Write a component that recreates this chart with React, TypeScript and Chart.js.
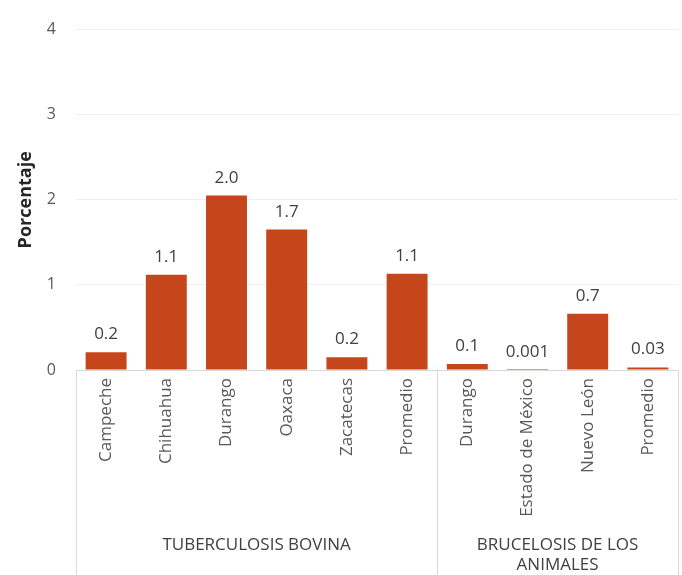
import React, { useEffect, useRef } from 'react';
import { Chart, registerables } from 'chart.js';

Chart.register(...registerables);

const categories = ['Campeche', 'Chihuahua', 'Durango', 'Oaxaca', 'Zacatecas', 'Promedio', 'Durango', 'Estado de México', 'Nuevo León', 'Promedio'];
const values = [0.21, 1.12, 2.05, 1.65, 0.15, 1.13, 0.07, 0.001, 0.66, 0.03];
const valueLabels = ['0.2', '1.1', '2.0', '1.7', '0.2', '1.1', '0.1', '0.001', '0.7', '0.03'];
const groupNames = [['TUBERCULOSIS BOVINA'], ['BRUCELOSIS DE LOS', 'ANIMALES']];
const groupSizes = [6, 4];
const yMin = 0;
const yMax = 4;
const yStep = 1;
const yTitle = 'Porcentaje';

const FONT = "'Open Sans', 'Noto Sans', sans-serif";

const annotate = {
  id: 'annotate',
  afterDatasetsDraw(chart: any) {
    const ctx = chart.ctx;
    const meta = chart.getDatasetMeta(0);
    const area = chart.chartArea;
    const xs = chart.scales.x;
    ctx.save();
    ctx.font = `17px ${FONT}`;
    ctx.fillStyle = '#404040';
    ctx.textAlign = 'center';
    ctx.textBaseline = 'alphabetic';
    meta.data.forEach((el: any, i: number) => {
      ctx.fillText(valueLabels[i], el.x, el.y - 13);
    });

    const half = (xs.getPixelForValue(1) - xs.getPixelForValue(0)) / 2;
    const bx = (k: number) => xs.getPixelForValue(k) - half;
    const bounds: number[] = [0];
    let acc = 0;
    groupSizes.forEach((s) => { acc += s; bounds.push(acc); });
    ctx.strokeStyle = '#d9d9d9';
    ctx.lineWidth = 1;
    bounds.forEach((k) => {
      const x = Math.round(bx(k)) + 0.5;
      ctx.beginPath();
      ctx.moveTo(x, area.bottom);
      ctx.lineTo(x, chart.height);
      ctx.stroke();
    });

    ctx.font = `17px ${FONT}`;
    ctx.fillStyle = '#404040';
    ctx.textBaseline = 'middle';
    let start = 0;
    groupSizes.forEach((s, g) => {
      const cx = (bx(start) + bx(start + s)) / 2;
      groupNames[g].forEach((line, j) => {
        ctx.fillText(line, cx, area.bottom + 175 + j * 20);
      });
      start += s;
    });
    ctx.restore();
  },
};

export default function App() {
  const ref = useRef<HTMLCanvasElement | null>(null);
  useEffect(() => {
    if (!ref.current) return;
    const chart = new Chart(ref.current, {
      type: 'bar',
      data: {
        labels: categories,
        datasets: [
          {
            data: values,
            backgroundColor: '#c5461a',
            borderWidth: 0,
            barPercentage: 0.68,
            categoryPercentage: 1,
          },
        ],
      },
      options: {
        responsive: false,
        animation: false,
        layout: { padding: { top: 25, right: 4, left: 0, bottom: 0 } },
        plugins: {
          legend: { display: false },
          tooltip: { enabled: false },
        },
        scales: {
          x: {
            grid: { display: false, drawTicks: false },
            border: { color: '#d9d9d9' },
            ticks: {
              autoSkip: false,
              minRotation: 90,
              maxRotation: 90,
              padding: 8,
              color: '#595959',
              font: { family: FONT, size: 17 },
            },
            afterFit(scale: any) {
              scale.height = 205;
            },
          },
          y: {
            min: yMin,
            max: yMax,
            ticks: {
              stepSize: yStep,
              padding: 20,
              color: '#595959',
              font: { family: FONT, size: 16 },
            },
            grid: { color: '#f0f0f0', drawTicks: false },
            border: { display: false },
            title: {
              display: true,
              text: yTitle,
              color: '#262626',
              font: { family: FONT, size: 18, weight: 'bold' },
              padding: { top: 15, bottom: 0 },
            },
            afterFit(scale: any) {
              scale.width = 76;
            },
          },
        },
      },
      plugins: [annotate],
    });
    return () => chart.destroy();
  }, []);
  return (
    <div style={{ position: 'fixed', left: 0, top: 0, width: 682, height: 575, background: '#ffffff' }}>
      <canvas ref={ref} width={682} height={575} style={{ display: 'block' }} />
    </div>
  );
}
